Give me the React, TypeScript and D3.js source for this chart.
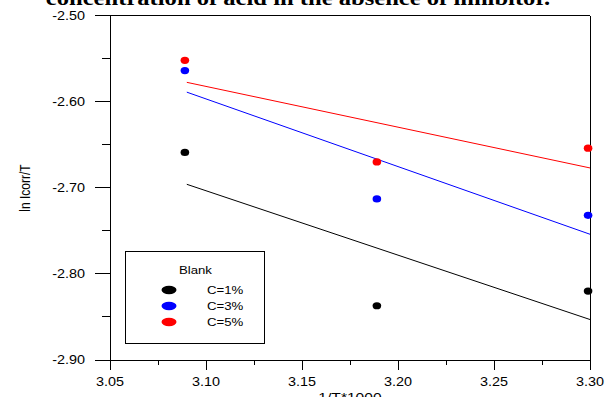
import React from "react";
import * as d3 from "d3";

const xValues = [3.089, 3.189, 3.299];
const seriesNames = ["C=1%", "C=3%", "C=5%"];
const seriesColors = ["#000000", "#0000ff", "#ff0000"];
const c1Values = [-2.659, -2.837, -2.82];
const c3Values = [-2.564, -2.713, -2.732];
const c5Values = [-2.552, -2.67, -2.654];
const fitX = [3.09, 3.3];
const fitC1 = [-2.696, -2.853];
const fitC3 = [-2.589, -2.754];
const fitC5 = [-2.5776, -2.677];
const xMajorTicks = [3.05, 3.1, 3.15, 3.2, 3.25, 3.3];
const xMinorTicks = [3.075, 3.125, 3.175, 3.225, 3.275];
const yMajorTicks = [-2.9, -2.8, -2.7, -2.6, -2.5];
const yMinorTicks = [-2.85, -2.75, -2.65, -2.55];
const titleText = "concentration of acid in the absence of inhibitor.";
const xTitle = "1/T*1000";
const yTitle = "ln Icorr/T";
const legendTitle = "Blank";

const W = 606;
const H = 397;
const SX = 1.2;
const FONT = "'Liberation Sans', Arial, sans-serif";

export default function App() {
  const x = d3.scaleLinear().domain([3.05, 3.3]).range([110, 590]);
  const y = d3.scaleLinear().domain([-2.9, -2.5]).range([360, 15.5]);
  const series = [c1Values, c3Values, c5Values];
  const fits = [fitC1, fitC3, fitC5];
  const line = d3
    .line<[number, number]>()
    .x((d) => x(d[0]))
    .y((d) => y(d[1]));

  const st = (tx: number, ty: number) => `translate(${tx},${ty}) scale(${SX},1)`;

  return (
    <svg
      width={W}
      height={H}
      style={{ position: "absolute", left: 0, top: 0, background: "#fff" }}
    >
      <rect x={0} y={0} width={W} height={H} fill="#fff" />
      {/* title */}
      <text
        transform={st(298, 5)}
        textAnchor="middle"
        fontFamily="'Liberation Serif', 'Times New Roman', serif"
        fontWeight="bold"
        fontSize={20.5}
        fill="#000"
      >
        {titleText}
      </text>

      {/* frame */}
      <g stroke="#000" strokeWidth={1} fill="none" shapeRendering="crispEdges">
        <line x1={x(3.05)} x2={x(3.3)} y1={y(-2.5)} y2={y(-2.5)} />
        <line x1={x(3.3)} x2={x(3.3)} y1={y(-2.5)} y2={y(-2.9)} />
        <line x1={x(3.05)} x2={x(3.05)} y1={y(-2.5)} y2={y(-2.9)} />
        <line x1={x(3.05)} x2={x(3.3)} y1={y(-2.9)} y2={y(-2.9)} />
        {xMajorTicks.map((t) => (
          <line key={"xm" + t} x1={x(t)} x2={x(t)} y1={y(-2.9)} y2={y(-2.9) + 10} />
        ))}
        {xMinorTicks.map((t) => (
          <line key={"xn" + t} x1={x(t)} x2={x(t)} y1={y(-2.9)} y2={y(-2.9) + 5} />
        ))}
        {yMajorTicks.map((t) => (
          <line key={"ym" + t} x1={x(3.05) - 15} x2={x(3.05)} y1={y(t)} y2={y(t)} />
        ))}
        {yMinorTicks.map((t) => (
          <line key={"yn" + t} x1={x(3.05) - 8} x2={x(3.05)} y1={y(t)} y2={y(t)} />
        ))}
      </g>

      {/* tick labels */}
      <g fontFamily={FONT} fontSize={12} fill="#000">
        {xMajorTicks.map((t) => (
          <text key={"xl" + t} transform={st(x(t), 386)} textAnchor="middle">
            {t.toFixed(2)}
          </text>
        ))}
        {yMajorTicks.map((t) => (
          <text key={"yl" + t} transform={st(85, y(t) + 4.2)} textAnchor="end">
            {t.toFixed(2)}
          </text>
        ))}
        <text transform={st(350, 402)} textAnchor="middle" fontSize={13}>
          {xTitle}
        </text>
        <text
          transform={`translate(30,188) scale(${SX},1) rotate(-90)`}
          textAnchor="middle"
        >
          {yTitle}
        </text>
      </g>

      {/* fit lines */}
      {fits.map((f, i) => (
        <path
          key={"fit" + i}
          d={line(fitX.map((xv, j) => [xv, f[j]] as [number, number])) || ""}
          stroke={seriesColors[i]}
          strokeWidth={1}
          fill="none"
        />
      ))}

      {/* points */}
      {series.map((s, i) =>
        s.map((v, j) => (
          <ellipse
            key={"p" + i + "_" + j}
            cx={x(xValues[j])}
            cy={y(v)}
            rx={4.3}
            ry={3.6}
            fill={seriesColors[i]}
          />
        ))
      )}

      {/* legend */}
      <g>
        <rect
          x={125.5}
          y={251.5}
          width={139}
          height={92}
          fill="#fff"
          stroke="#000"
          strokeWidth={1}
        />
        <text
          transform={st(179, 274)}
          fontFamily={FONT}
          fontSize={11}
          fill="#000"
        >
          {legendTitle}
        </text>
        {seriesNames.map((n, i) => (
          <g key={"lg" + i}>
            <ellipse cx={169} cy={290 + i * 16} rx={7.5} ry={4.2} fill={seriesColors[i]} />
            <text
              transform={st(207, 294 + i * 16)}
              fontFamily={FONT}
              fontSize={11}
              fill="#000"
            >
              {n}
            </text>
          </g>
        ))}
      </g>
    </svg>
  );
}
